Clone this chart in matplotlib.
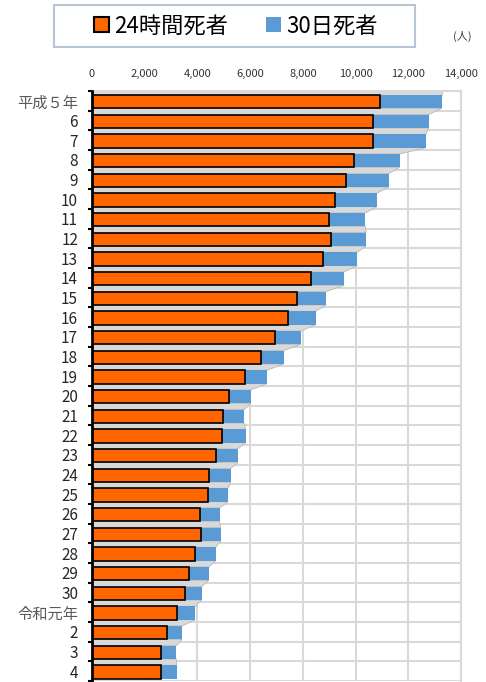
import numpy as np
import matplotlib
matplotlib.use("Agg")
import matplotlib.pyplot as plt
from matplotlib.patches import Patch, Polygon, Rectangle

plt.rcParams['font.family'] = ['Noto Sans CJK JP', 'DejaVu Sans']

years = ['平成５年', '6', '7', '8', '9', '10', '11', '12', '13', '14', '15', '16', '17',
         '18', '19', '20', '21', '22', '23', '24', '25', '26', '27', '28', '29', '30',
         '令和元年', '2', '3', '4']
deaths_24h = [10942, 10649, 10679, 9942, 9640, 9211, 9006, 9066, 8747, 8326, 7768, 7436,
              6937, 6415, 5796, 5209, 4979, 4948, 4691, 4438, 4388, 4113, 4117, 3904,
              3694, 3532, 3215, 2839, 2636, 2610]
deaths_30d = [13269, 12768, 12670, 11674, 11254, 10805, 10372, 10403, 10060, 9575, 8877,
              8492, 7931, 7272, 6639, 6023, 5772, 5828, 5535, 5261, 5165, 4838, 4885,
              4698, 4431, 4166, 3920, 3416, 3205, 3216]
xticks = [0, 2000, 4000, 6000, 8000, 10000, 12000, 14000]
legend_labels = ['24時間死者', '30日死者']

W, H = 486, 682
fig = plt.figure(figsize=(W / 100, H / 100), dpi=100)
ax = fig.add_axes([92 / W, 1 / H, (461 - 92) / W, (681 - 91) / H])

n = len(years)
y = np.arange(n)
off = 0.04
bh = 0.68

ax.set_xlim(0, 14000)
ax.set_ylim(n - 0.5, -0.5)

# grid
ax.set_xticks(xticks)
ax.set_xticklabels([f'{v:,}' for v in xticks])
ax.set_yticks(np.arange(-0.5, n, 1))
ax.set_yticklabels([])
ax.set_yticks(y, minor=True)
ax.set_yticklabels(years, minor=True)
ax.grid(True, which='major', color='#d9d9d9', lw=1.5)
ax.set_axisbelow(True)

ax.xaxis.tick_top()
ax.tick_params(axis='x', length=0, pad=8.5, labelsize=8, labelcolor='#333333')
ax.tick_params(axis='y', which='major', length=3, width=1.5, color='black', direction='out')
ax.tick_params(axis='y', which='minor', length=0, pad=10, labelsize=11)
for lab in ax.get_yticklabels(minor=True):
    if lab.get_text() in ('平成５年', '令和元年'):
        lab.set_color('#595959')
    else:
        lab.set_color('#262626')

for s in ('top', 'right'):
    ax.spines[s].set_color('#d9d9d9')
    ax.spines[s].set_linewidth(1.5)
ax.spines['bottom'].set_visible(False)
ax.spines['left'].set_color('black')
ax.spines['left'].set_linewidth(2)
ax.spines['left'].set_zorder(5)

# 3D-like gray faces between bars
tops = y + off - bh / 2
bots = y + off + bh / 2
ax.add_patch(Polygon([(0, -0.5), (deaths_30d[0], -0.5), (deaths_30d[0], tops[0]), (0, tops[0])],
                     closed=True, fc='#d9d9d9', ec='#c0c0c0', lw=0.6, zorder=1.5))
for i in range(n - 1):
    pts = [(0, bots[i]), (deaths_30d[i], bots[i]), (deaths_30d[i + 1], tops[i + 1]), (0, tops[i + 1])]
    ax.add_patch(Polygon(pts, closed=True, fc='#d9d9d9', ec='#b8b8b8', lw=0.6, zorder=1.5))

ax.barh(y + off, deaths_30d, height=bh, color='#5B9BD5', zorder=2)
ax.barh(y + off, deaths_24h, height=bh, color='#FF6600', edgecolor='black', lw=1.2, zorder=3)

# legend
fig.patches.append(Rectangle((54 / W, 1 - 47 / H), (415 - 54) / W, 42 / H, transform=fig.transFigure,
                             fill=False, ec='#b8c4d8', lw=1.5))
handles = [Patch(fc='#FF6600', ec='black', lw=1.5), Patch(fc='#5B9BD5', ec='none')]
fig.legend(handles, legend_labels, loc='center', bbox_to_anchor=(236 / W, 1 - 26 / H), ncol=2,
           frameon=False, fontsize=16, handlelength=0.65, handleheight=0.65,
           handletextpad=0.25, columnspacing=1.7)

fig.text(462 / W, 1 - 36 / H, '(人)', fontsize=8, color='#404040', ha='center', va='center')

fig.savefig('out.png', dpi=100)
